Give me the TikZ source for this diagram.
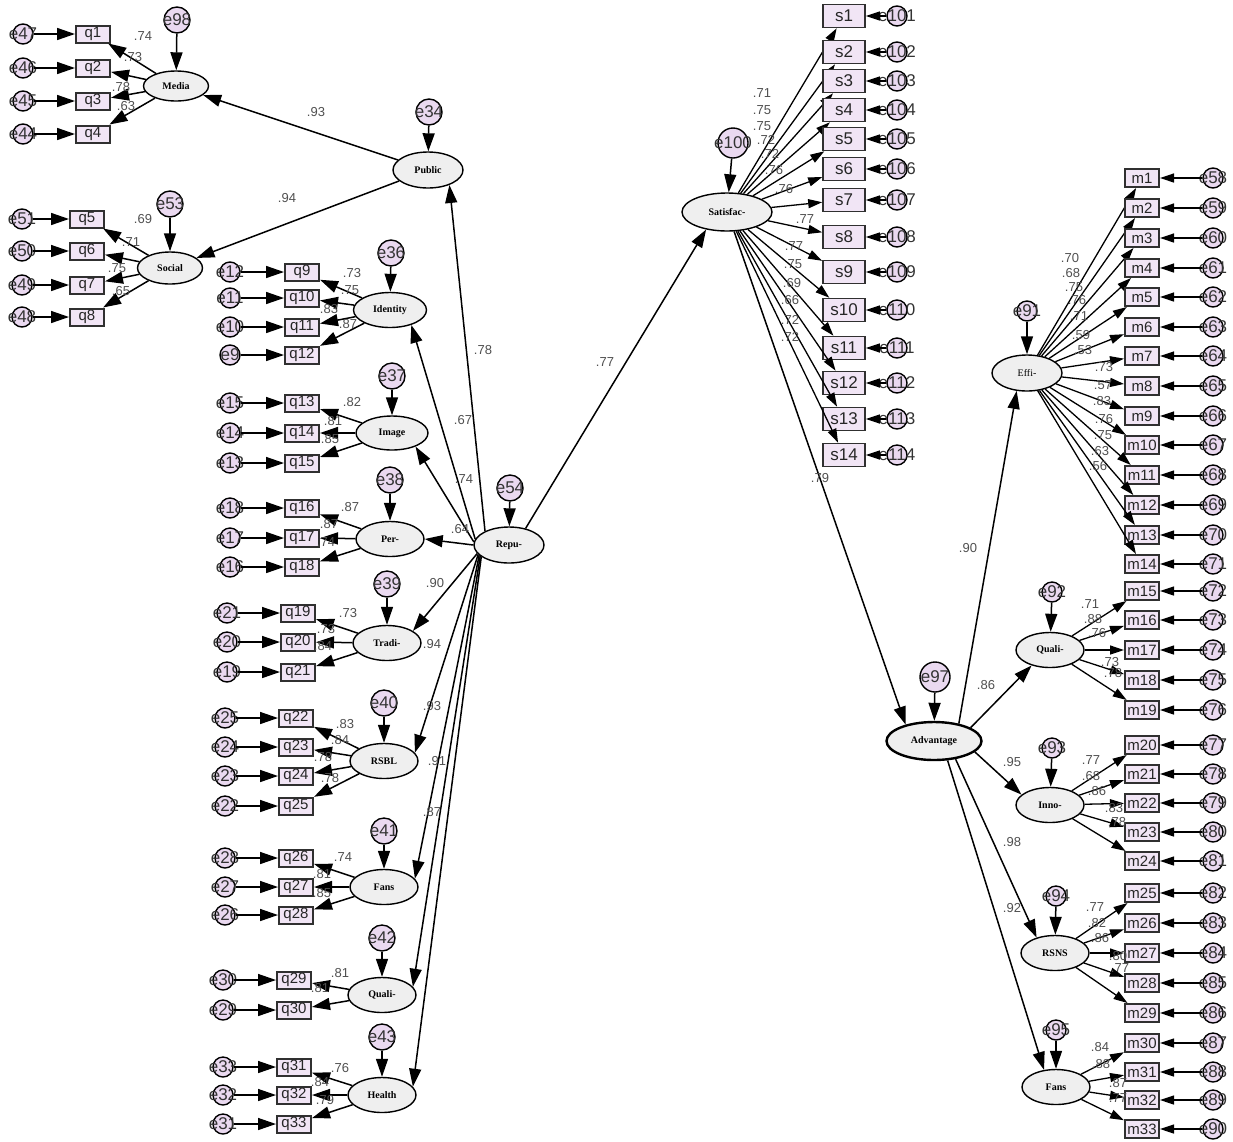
\documentclass[tikz,border=0pt]{standalone}
\usepackage{fontspec}
\setmainfont{Liberation Serif}
\newfontfamily\arialf{Liberation Sans}
\usetikzlibrary{arrows.meta,shapes.geometric}
\definecolor{latfill}{HTML}{EFEFEF}
\definecolor{obsfill}{HTML}{F1E5F5}
\definecolor{errfill}{HTML}{EAD9F0}
\definecolor{numcol}{HTML}{505050}
\definecolor{boxline}{HTML}{303030}
\tikzset{
  lat/.style={ellipse, draw=black, line width=1.4pt, fill=latfill, minimum width=68pt, minimum height=35pt, inner sep=0pt, font=\bfseries\fontsize{10}{10}\selectfont},
  obs/.style={rectangle, draw=boxline, line width=2pt, fill=obsfill, minimum width=34pt, minimum height=17pt, inner sep=0pt, font=\arialf\fontsize{15}{15}\selectfont, text=black!85},
  sobs/.style={obs, line width=1.6pt, minimum width=42pt, minimum height=23pt, font=\arialf\fontsize{17}{17}\selectfont},
  mobs/.style={obs, minimum width=34pt, minimum height=18pt, font=\arialf\fontsize{15}{15}\selectfont},
  errs/.style={circle, draw=black, line width=1.4pt, fill=errfill, minimum size=20pt, inner sep=0pt},
  errl/.style={errs, minimum size=26pt},
  etext/.style={font=\arialf\fontsize{17}{17}\selectfont, text=black!80, inner sep=0pt},
  eltext/.style={font=\arialf\fontsize{17}{17}\selectfont, text=black!80, inner sep=0pt},
  num/.style={font=\arialf\fontsize{13}{13}\selectfont, text=numcol, inner sep=0pt},
  arr/.style={-{Triangle[length=18pt,width=12pt]}, line width=1.5pt},
  sarr/.style={-{Triangle[length=14pt,width=9pt]}, line width=1.3pt},
}
\newcommand\toperr[4]{% name, position, target, size style
  \node[#4] (#1) at (#2) {};
  \node[eltext] (t#1) at (#1) {#1};
  \draw[arr] (#1) -- (#3);}
\newcommand\leftgroup[4]{%
  \foreach \n/\y/\e/\lv/\lx/\ly in {#4} {
    \node[obs] (\n) at (#2,\y) {\n};
    \node[errs] (e\e) at (#3,\y) {};
    \node[etext] (te\e) at (e\e) {e\e};
    \draw[arr] (e\e) -- (\n);
    \draw[arr] (#1) -- (\n);
    \node[num] (n\n) at (\lx,\ly) {\lv};
  }}
\newcommand\rightgroup[5]{%
  \foreach \n/\y/\e/\lv/\lx/\ly in {#5} {
    \node[#4] (\n) at (#2,\y) {\n};
    \node[errs] (e\e) at (#3,\y) {};
    \node[etext] (te\e) at (e\e) {e\e};
    \draw[sarr] (e\e) -- (\n);
    \draw[sarr] (#1) -- (\n);
    \node[num] (n\n) at (\lx,\ly) {\lv};
  }}
\begin{document}
\begin{tikzpicture}[x=1pt,y=-1pt]
\useasboundingbox[fill=white] (0,0) rectangle (1233,1141);

% ---------- latent variables ----------
\node[lat, minimum width=65pt, minimum height=30pt] (Media) at (176,86) {Media};
\node[lat, minimum width=65pt, minimum height=32pt] (Social) at (170,268) {Social};
\node[lat, minimum width=70pt, minimum height=36pt] (Public) at (428,170) {Public};
\node[lat, minimum width=73pt] (Identity) at (390,310) {Identity};
\node[lat, minimum width=72pt, minimum height=34pt] (Image) at (392,433) {Image};
\node[lat] (Per) at (390,539) {Per-};
\node[lat] (Tradi) at (387,643) {Tradi-};
\node[lat] (RSBL) at (384,761) {RSBL};
\node[lat] (FansL) at (384,887) {Fans};
\node[lat] (QualiL) at (382,995) {Quali-};
\node[lat] (Health) at (382,1095) {Health};
\node[lat, minimum width=70pt, minimum height=36pt] (Repu) at (509,545) {Repu-};
\node[lat, minimum width=90pt, minimum height=38pt] (Satis) at (727,212) {Satisfac-};
\node[lat, minimum width=95pt, minimum height=38pt, line width=2.4pt] (Adv) at (934,741) {Advantage};
\node[lat, minimum width=70pt, minimum height=36pt, font=\fontsize{10}{10}\selectfont] (Effi) at (1027,373) {Effi-};
\node[lat] (QualiR) at (1050,650) {Quali-};
\node[lat] (Inno) at (1050,805) {Inno-};
\node[lat] (RSNS) at (1055,953) {RSNS};
\node[lat] (FansR) at (1056,1087) {Fans};

% ---------- disturbance terms ----------
\toperr{e98}{177,20}{Media}{errl}
\toperr{e53}{170,204}{Social}{errl}
\toperr{e34}{429,112}{Public}{errl}
\toperr{e36}{391,253}{Identity}{errl}
\toperr{e37}{392,376}{Image}{errl}
\toperr{e38}{390,480}{Per}{errl}
\toperr{e39}{387,584}{Tradi}{errl}
\toperr{e40}{384,703}{RSBL}{errl}
\toperr{e41}{384,831}{FansL}{errl}
\toperr{e42}{382,938}{QualiL}{errl}
\toperr{e43}{382,1037}{Health}{errl}
\toperr{e54}{510,488}{Repu}{errl}
\node[errs, minimum size=30pt] (e100) at (733,143) {};
\node[eltext] (te100) at (e100) {e100};
\draw[arr] (e100) -- (Satis);
\node[errs, minimum size=30pt] (e97) at (935,677) {};
\node[eltext] (te97) at (e97) {e97};
\draw[arr] (e97) -- (Adv);
\toperr{e91}{1027,311}{Effi}{errs}
\toperr{e92}{1052,592}{QualiR}{errs}
\toperr{e93}{1052,748}{Inno}{errs}
\toperr{e94}{1056,896}{RSNS}{errs}
\toperr{e95}{1056,1030}{FansR}{errs}

% ---------- left measurement models ----------
\leftgroup{Media}{93}{23}{q1/34/47/.74/143/36, q2/68/46/.73/133/57, q3/101/45/.78/121/87, q4/134/44/.63/126/106}
\leftgroup{Social}{87}{22}{q5/219/51/.69/143/219, q6/251/50/.71/131/242, q7/285/49/.75/117/268, q8/317/48/.65/121/291}
\leftgroup{Identity}{302}{230}{q9/272/12/.73/352/273, q10/298/11/.75/350/290, q11/327/10/.83/329/309, q12/355/9/.87/348/324}
\leftgroup{Image}{302}{230}{q13/403/15/.82/352/402, q14/433/14/.81/333/421, q15/463/13/.85/330/439}
\leftgroup{Per}{302}{230}{q16/508/18/.87/350/507, q17/538/17/.87/329/524, q18/567/16/.74/326/542}
\leftgroup{Tradi}{298}{227}{q19/613/21/.73/348/613, q20/642/20/.73/326/629, q21/672/19/.84/323/646}
\leftgroup{RSBL}{296}{225}{q22/718/25/.83/345/724, q23/747/24/.84/340/740, q24/776/23/.78/323/757, q25/806/22/.78/330/778}
\leftgroup{FansL}{296}{225}{q26/858/28/.74/343/857, q27/887/27/.81/322/874, q28/915/26/.85/322/893}
\leftgroup{QualiL}{294}{223}{q29/980/30/.81/340/973, q30/1010/29/.81/320/988}
\leftgroup{Health}{294}{223}{q31/1067/33/.76/340/1068, q32/1095/32/.84/320/1082, q33/1124/31/.79/325/1100}

% ---------- right measurement models ----------
\rightgroup{Satis}{844}{897}{sobs}{s1/16/101/.71/762/93, s2/52/102/.75/762/110, s3/81/103/.75/762/126, s4/110/104/.72/766/140, s5/139/105/.72/770/154, s6/169/106/.76/774/170, s7/200/107/.76/784/189, s8/237/108/.77/805/219, s9/272/109/.77/794/246, s10/310/110/.75/793/264, s11/348/111/.69/792/283, s12/383/112/.66/790/300, s13/419/113/.72/790/320, s14/455/114/.72/790/337}
\rightgroup{Effi}{1142}{1213}{mobs}{m1/178/58/.70/1070/258, m2/208/59/.68/1071/273, m3/238/60/.75/1074/287, m4/268/61/.76/1077/300, m5/297/62/.71/1079/316, m6/327/63/.59/1081/335, m7/356/64/.53/1083/350, m8/386/65/.73/1104/367, m9/416/66/.57/1103/385, m10/445/67/.83/1102/401, m11/475/68/.76/1104/419, m12/505/69/.75/1103/435, m13/535/70/.63/1100/451, m14/564/71/.56/1098/466}
\rightgroup{QualiR}{1142}{1213}{mobs}{m15/591/72/.71/1090/604, m16/620/73/.88/1093/619, m17/650/74/.76/1097/633, m18/680/75/.73/1110/662, m19/710/76/.78/1113/673}
\rightgroup{Inno}{1142}{1213}{mobs}{m20/745/77/.77/1091/760, m21/774/78/.68/1091/776, m22/803/79/.86/1097/791, m23/832/80/.83/1114/808, m24/861/81/.78/1117/822}
\rightgroup{RSNS}{1142}{1213}{mobs}{m25/893/82/.77/1095/907, m26/923/83/.82/1097/923, m27/953/84/.86/1100/938, m28/983/85/.80/1118/956, m29/1013/86/.77/1120/968}
\rightgroup{FansR}{1142}{1213}{mobs}{m30/1043/87/.84/1100/1047, m31/1072/88/.88/1101/1064, m32/1100/89/.87/1118/1083, m33/1129/90/.77/1118/1098}

% ---------- structural paths ----------
\draw[arr] (Public) -- (Media);
\draw[arr] (Public) -- (Social);
\draw[arr] (Repu.150) -- (Public.-35);
\draw[arr] (Repu.170) -- (Identity.-35);
\draw[arr] (Repu.175) -- (Image.-30);
\draw[arr] (Repu.west) -- (Per.east);
\draw[arr] (Repu.195) -- (Tradi.25);
\draw[arr] (Repu.197) -- (RSBL.15);
\draw[arr] (Repu.199) -- (FansL.15);
\draw[arr] (Repu.201) -- (QualiL.15);
\draw[arr] (Repu.203) -- (Health.15);
\draw[arr] (Repu.45) -- (Satis.-140);
\draw[arr] (Satis.-70) -- (Adv.150);
\draw[arr] (Adv.35) -- (Effi.-120);
\draw[arr] (Adv.20) -- (QualiR.-140);
\draw[arr] (Adv.-15) -- (Inno.160);
\draw[arr] (Adv.-40) -- (RSNS.140);
\draw[arr] (Adv.-55) -- (FansR.125);

% ---------- structural coefficients ----------
\node[num] (cPM) at (316,112) {.93};
\node[num] (cPS) at (287,198) {.94};
\node[num] (cRP) at (483,350) {.78};
\node[num] (cRId) at (463,420) {.67};
\node[num] (cRIm) at (464,479) {.74};
\node[num] (cRPe) at (460,529) {.64};
\node[num] (cRT) at (435,583) {.90};
\node[num] (cRR) at (432,644) {.94};
\node[num] (cRF) at (432,706) {.93};
\node[num] (cRQ) at (437,761) {.91};
\node[num] (cRH) at (432,812) {.87};
\node[num] (cRS) at (605,362) {.77};
\node[num] (cSA) at (820,478) {.79};
\node[num] (cAE) at (968,548) {.90};
\node[num] (cAQ) at (986,685) {.86};
\node[num] (cAI) at (1012,762) {.95};
\node[num] (cAR) at (1012,842) {.98};
\node[num] (cAF) at (1012,908) {.92};
\end{tikzpicture}
\end{document}
